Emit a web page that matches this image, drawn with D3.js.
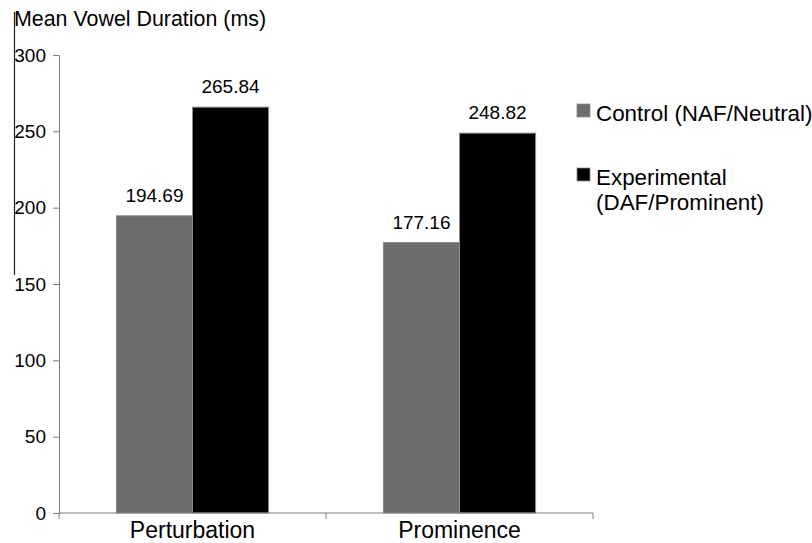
<!DOCTYPE html>
<html>
<head>
<meta charset="utf-8">
<script src="https://cdn.jsdelivr.net/npm/d3@7"></script>
<style>
  html, body { margin: 0; padding: 0; background: #fff; }
  svg text { font-family: "Liberation Sans", Arial, Helvetica, sans-serif; fill: #000; }
</style>
</head>
<body>
<svg id="chart" width="812" height="543"></svg>
<script>
// Mean vowel duration by condition
const categories = ["Perturbation", "Prominence"];
const seriesNames = ["Control (NAF/Neutral)", "Experimental (DAF/Prominent)"];
const controlValues = [194.69, 177.16];
const experimentalValues = [265.84, 248.82];
const yTicks = [0, 50, 100, 150, 200, 250, 300];
const yTitle = "Mean Vowel Duration (ms)";

const seriesValues = [controlValues, experimentalValues];
const seriesColors = ["#6d6d6d", "#000000"];

const svg = d3.select("#chart");

const x0 = d3.scaleBand()
  .domain(categories)
  .range([59, 593])
  .paddingInner(0.43)
  .paddingOuter(0.215);

const x1 = d3.scaleBand()
  .domain(d3.range(seriesNames.length))
  .range([0, x0.bandwidth()]);

const y = d3.scaleLinear().domain([0, 300]).range([513, 55]);

// Bars
const groups = svg.append("g").selectAll("g")
  .data(categories)
  .join("g")
  .attr("transform", d => `translate(${x0(d)},0)`);

groups.selectAll("rect")
  .data((c, ci) => seriesValues.map((vals, si) => ({ si, v: vals[ci] })))
  .join("rect")
  .attr("x", d => x1(d.si))
  .attr("width", x1.bandwidth())
  .attr("y", d => y(d.v))
  .attr("height", d => y(0) - y(d.v))
  .attr("fill", d => seriesColors[d.si])
  .attr("stroke", "#8c8c8c")
  .attr("stroke-width", 1);

// Value labels
groups.selectAll("text.val")
  .data((c, ci) => seriesValues.map((vals, si) => ({ si, v: vals[ci] })))
  .join("text")
  .attr("class", "val")
  .attr("x", d => x1(d.si) + x1.bandwidth() / 2)
  .attr("y", d => y(d.v) - 14)
  .attr("text-anchor", "middle")
  .style("font-size", "19px")
  .text(d => d.v.toFixed(2));

// Y axis
const yAxis = svg.append("g")
  .attr("transform", "translate(59,0)")
  .call(d3.axisLeft(y).tickValues(yTicks).tickSize(6).tickPadding(7).tickSizeOuter(0));
yAxis.select(".domain").attr("stroke", "#7a7a7a");
yAxis.selectAll(".tick line").attr("stroke", "#7a7a7a");
yAxis.selectAll(".tick text")
  .style("font-size", "19px")
  .attr("fill", "#000");

// X axis with boundary ticks between categories
const xAxis = svg.append("g").attr("transform", `translate(0,${y(0)})`);
xAxis.append("line")
  .attr("x1", 59).attr("x2", 593)
  .attr("stroke", "#7a7a7a");
const boundaries = [59, ...categories.map(c => x0(c) - x0.step() * x0.paddingInner() / 2 + x0.step())];
xAxis.selectAll("line.tick")
  .data(boundaries)
  .join("line")
  .attr("class", "tick")
  .attr("x1", d => d).attr("x2", d => d)
  .attr("y1", 0).attr("y2", 6)
  .attr("stroke", "#7a7a7a");
xAxis.selectAll("text")
  .data(categories)
  .join("text")
  .attr("x", d => x0(d) + x0.bandwidth() / 2)
  .attr("y", 25)
  .attr("text-anchor", "middle")
  .style("font-size", "23px")
  .text(d => d);

// Y axis title and its side rule
svg.append("text")
  .attr("x", 14)
  .attr("y", 26)
  .style("font-size", "21.4px")
  .text(yTitle);
svg.append("line")
  .attr("x1", 14.5).attr("x2", 14.5)
  .attr("y1", 12).attr("y2", 275)
  .attr("stroke", "#222")
  .attr("stroke-width", 1.2);

// Legend
const legendRows = [
  { si: 0, lines: ["Control (NAF/Neutral)"], y: 104 },
  { si: 1, lines: ["Experimental", "(DAF/Prominent)"], y: 168 }
];
const legend = svg.append("g");
legendRows.forEach(r => {
  legend.append("rect")
    .attr("x", 577).attr("y", r.y)
    .attr("width", 13).attr("height", 13)
    .attr("fill", seriesColors[r.si])
    .attr("stroke", "#8c8c8c")
    .attr("stroke-width", 0.8);
  const t = legend.append("text")
    .attr("x", 596)
    .attr("y", r.y + 17)
    .style("font-size", "22.4px");
  r.lines.forEach((ln, i) => {
    t.append("tspan").attr("x", 596).attr("dy", i === 0 ? 0 : 25).text(ln);
  });
});
</script>
</body>
</html>
